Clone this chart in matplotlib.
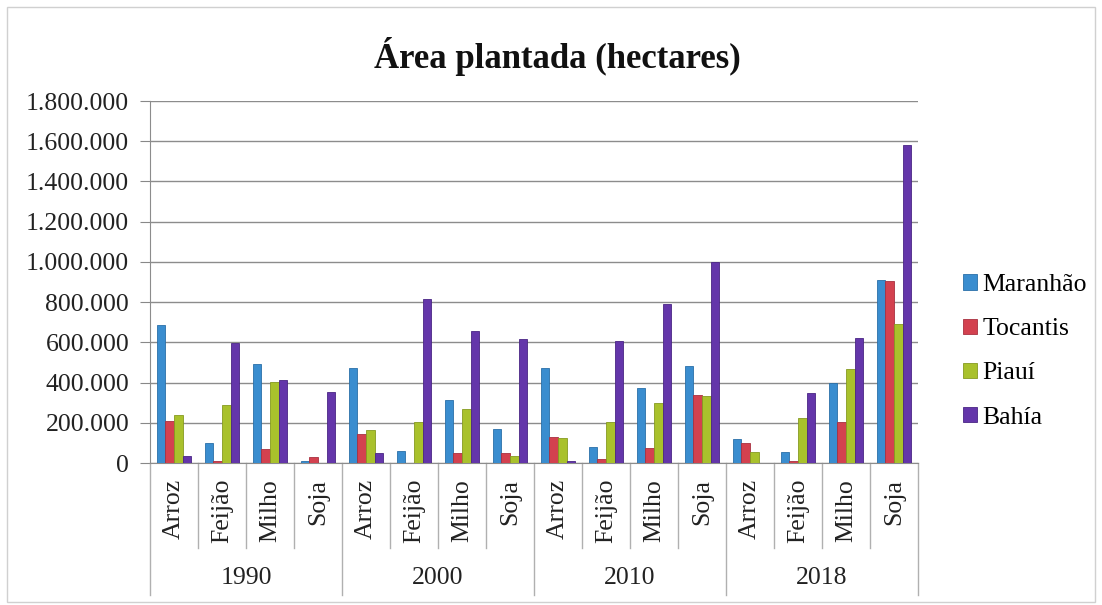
''' Area plantada chart: grouped bars by year and crop.
'''
import matplotlib
matplotlib.use('Agg')
import matplotlib.pyplot as plt
import matplotlib.transforms as mtransforms
from matplotlib.patches import Rectangle
from matplotlib.ticker import FuncFormatter
import numpy as np

# data (hectares)
years = ['1990', '2000', '2010', '2018']
crops = ['Arroz', 'Feijão', 'Milho', 'Soja']
states = ['Maranhão', 'Tocantis', 'Piauí', 'Bahía']

# one value per (year, crop), in the order 1990 Arroz ... 2018 Soja
maranhao = [686000, 99000, 491000, 8000,
            470000, 61000, 311000, 170000,
            473000, 78000, 371000, 480000,
            119000, 53000, 400000, 910000]
tocantis = [207000, 8000, 71000, 30000,
            144000, 0, 50000, 50000,
            131000, 20000, 75000, 340000,
            99000, 8000, 206000, 903000]
piaui = [240000, 290000, 402000, 0,
         162000, 202000, 268000, 36000,
         123000, 206000, 296000, 331000,
         53000, 222000, 466000, 691000]
bahia = [33000, 596000, 414000, 352000,
         50000, 816000, 658000, 617000,
         8000, 605000, 790000, 1000000,
         0, 348000, 623000, 1580000]

colors = ['#3a8dcf', '#d3414f', '#a9c12c', '#6436aa']
edges = ['#2a6fa8', '#a83040', '#869a20', '#4a2585']

FS = 18.5


def thousands(v, pos):
    return '{:,.0f}'.format(v).replace(',', '.')


def main():
    plt.rcParams['font.family'] = ['Liberation Serif', 'DejaVu Serif']

    fig = plt.figure(figsize=(11.02, 6.05), dpi=100)
    ax = fig.add_axes([150 / 1102, 1 - 463 / 605, 768 / 1102, 362 / 605])

    series = [maranhao, tocantis, piaui, bahia]
    n = len(maranhao)
    x = np.arange(n)
    w = 0.18
    for i, vals in enumerate(series):
        ax.bar(x + (i - 1.5) * w, vals, width=w, color=colors[i],
               edgecolor=edges[i], linewidth=0.6, label=states[i], zorder=3)

    ax.set_xlim(-0.5, n - 0.5)
    ax.set_ylim(0, 1800000)
    ax.set_yticks(np.arange(0, 1800001, 200000))
    ax.yaxis.set_major_formatter(FuncFormatter(thousands))
    ax.tick_params(axis='y', labelsize=FS, length=7, color='#888888',
                   pad=8, labelcolor='#222222')
    ax.set_xticks([])
    ax.grid(axis='y', color='#8c8c8c', lw=1, zorder=0)

    for s in ['top', 'right']:
        ax.spines[s].set_visible(False)
    ax.spines['left'].set_color('#8c8c8c')
    ax.spines['bottom'].set_color('#8c8c8c')

    # two level category axis
    trans = mtransforms.blended_transform_factory(ax.transData, ax.transAxes)
    for k in range(n + 1):
        xb = k - 0.5
        low = -0.365 if k % 4 == 0 else -0.235
        ax.plot([xb, xb], [0, low], transform=trans, color='#b0b0b0',
                lw=1, clip_on=False)
    for k, c in enumerate(crops * len(years)):
        ax.text(k, -0.044, c, transform=trans, rotation=90, ha='center',
                va='top', fontsize=FS, color='#222222')
    for j, yr in enumerate(years):
        ax.text(j * 4 + 1.5, -0.318, yr, transform=trans, ha='center',
                va='center', fontsize=FS, color='#222222')

    fig.text(557 / 1102, 1 - 57 / 605, 'Área plantada (hectares)',
             ha='center', va='center', fontsize=25, fontweight='bold',
             color='#111111')

    fig.legend(loc='upper left', bbox_to_anchor=(953 / 1102, 1 - 264 / 605),
               frameon=False, fontsize=FS, handlelength=0.55,
               handleheight=0.55, handletextpad=0.2, labelspacing=0.86,
               borderaxespad=0)

    # chart border
    fig.patches.append(Rectangle((7 / 1102, 0.005), 1088 / 1102, 1 - 7 / 605 - 0.005,
                                 transform=fig.transFigure, fill=False,
                                 edgecolor='#d0d0d0', lw=1))

    fig.savefig('out.png', dpi=100)


if __name__ == '__main__':
    main()
